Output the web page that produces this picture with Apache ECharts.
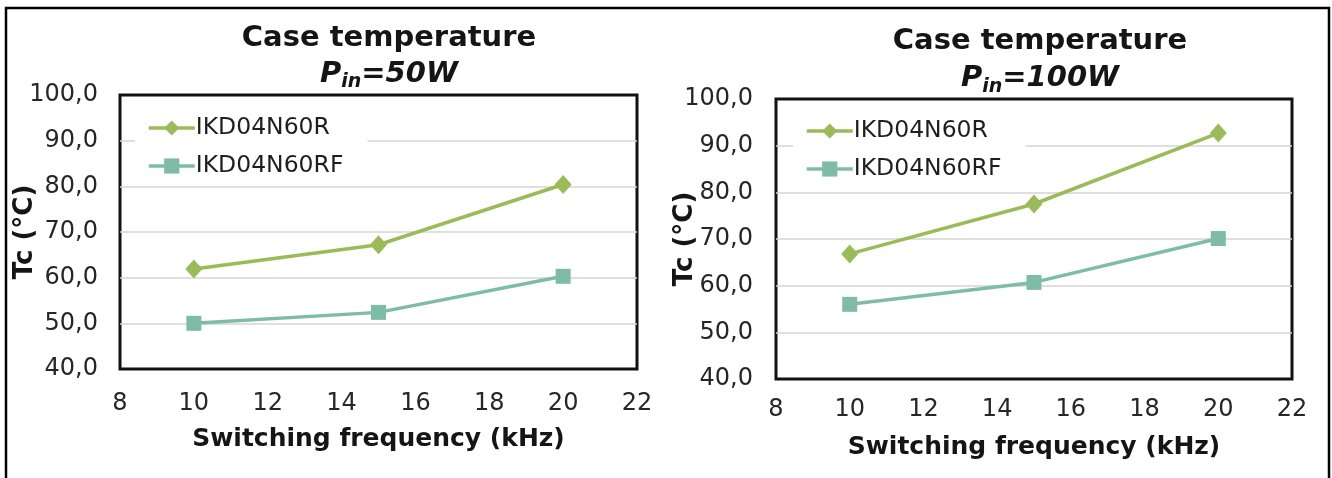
<!DOCTYPE html>
<html>
<head>
<meta charset="utf-8">
<script src="https://cdn.jsdelivr.net/npm/echarts@6/dist/echarts.min.js"></script>
<style>
html,body{margin:0;padding:0;background:#fff;}
#c{width:1332px;height:478px;}
</style>
</head>
<body>
<div id="c"></div>
<script>
const freq = [10, 15, 20];
const seriesNames = ['IKD04N60R', 'IKD04N60RF'];
const r50 = [61.9, 67.2, 80.4];
const rf50 = [50.0, 52.4, 60.3];
const r100 = [66.8, 77.5, 92.7];
const rf100 = [56.0, 60.7, 70.1];
const titleMain = 'Case temperature';
const titlePower = ['=50W', '=100W'];
const xName = 'Switching frequency (kHz)';
const yName = 'Tc (°C)';

const FONT = 'DejaVu Sans';
const C_R = '#9bbb59';
const C_RF = '#7fbca8';

const chart = echarts.init(document.getElementById('c'));

function pairs(xs, ys) { return xs.map((x, i) => [x, ys[i]]); }

const grids = [
  {left: 120, top: 95, width: 517, height: 274},
  {left: 776, top: 99, width: 516, height: 280}
];

function titleRich(lh) {
  return {
    a: {fontFamily: FONT, fontWeight: 'bold', fontSize: 29, color: '#151515', lineHeight: lh},
    i: {fontFamily: FONT, fontWeight: 'bold', fontStyle: 'italic', fontSize: 29, color: '#151515', lineHeight: lh},
    s: {fontFamily: FONT, fontWeight: 'bold', fontStyle: 'italic', fontSize: 19, color: '#151515', lineHeight: lh, verticalAlign: 'bottom', padding: [13, 0, 0, 0]}
  };
}

function makeX(gi) {
  return {
    gridIndex: gi, type: 'value', min: 8, max: 22, interval: 2,
    axisLine: {show: false}, axisTick: {show: false}, splitLine: {show: false},
    axisLabel: {fontFamily: FONT, fontSize: 24, color: '#262626', margin: gi === 0 ? 23 : 19},
    name: xName, nameLocation: 'middle', nameGap: gi === 0 ? 58 : 56,
    nameTextStyle: {fontFamily: FONT, fontWeight: 'bold', fontSize: 25, color: '#151515'}
  };
}
function makeY(gi) {
  return {
    gridIndex: gi, type: 'value', min: 40, max: 100, interval: 10,
    axisLine: {show: false}, axisTick: {show: false},
    splitLine: {show: true, showMinLine: false, showMaxLine: false, lineStyle: {color: '#d4d4d4', width: 1.5}},
    axisLabel: {fontFamily: FONT, fontSize: 24, color: '#262626', margin: gi === 0 ? 22 : 23,
      formatter: v => v.toFixed(1).replace('.', ',')},
    name: yName, nameLocation: 'middle', nameGap: gi === 0 ? 82 : 78, nameRotate: 90,
    nameMoveOverlap: false,
    nameTextStyle: {fontFamily: FONT, fontWeight: 'bold', fontSize: 26, color: '#151515'}
  };
}
function makeSeries(gi, name, data, color, symbol, size) {
  return {
    type: 'line', name: name, xAxisIndex: gi, yAxisIndex: gi,
    data: pairs(freq, data), symbol: symbol, symbolSize: size,
    lineStyle: {color: color, width: 3.5}, itemStyle: {color: color},
    emphasis: {disabled: true}, z: 5
  };
}
function makeLegend(left, top) {
  return {
    orient: 'vertical', left: left, top: top, padding: [8, 24, 7, 12], itemGap: 12,
    backgroundColor: '#fff', itemWidth: 46, itemHeight: 19,
    lineStyle: {width: 3.5},
    textStyle: {fontFamily: FONT, fontSize: 23.5, color: '#1e1e1e', lineHeight: 26, padding: [0, 0, 0, -4]},
    data: seriesNames.map(n => ({name: n}))
  };
}

const option = {
  backgroundColor: '#fff',
  animation: false,
  title: [
    {text: '{a|' + titleMain + '}\n{i|P}{s|in}{i|' + titlePower[0] + '}', left: 384, top: 15, textAlign: 'center',
     textStyle: {rich: titleRich(36)}},
    {text: '{a|' + titleMain + '}\n{i|P}{s|in}{i|' + titlePower[1] + '}', left: 1035, top: 18, textAlign: 'center',
     textStyle: {rich: titleRich(37)}}
  ],
  legend: [makeLegend(135, 107), makeLegend(793, 110)],
  grid: grids.map(g => Object.assign({show: true, borderColor: '#111', borderWidth: 3, backgroundColor: 'transparent'}, g)),
  xAxis: [makeX(0), makeX(1)],
  yAxis: [makeY(0), makeY(1)],
  series: [
    makeSeries(0, seriesNames[0], r50, C_R, 'diamond', [17, 19]),
    makeSeries(0, seriesNames[1], rf50, C_RF, 'rect', [15, 15]),
    makeSeries(1, seriesNames[0], r100, C_R, 'diamond', [17, 19]),
    makeSeries(1, seriesNames[1], rf100, C_RF, 'rect', [15, 15])
  ],
  graphic: [
    {type: 'polyline', shape: {points: [[6, 478], [6, 8], [1329, 8], [1329, 478]]},
     style: {stroke: '#000', lineWidth: 2.5, fill: null}, silent: true}
  ]
};
chart.setOption(option);
</script>
</body>
</html>
